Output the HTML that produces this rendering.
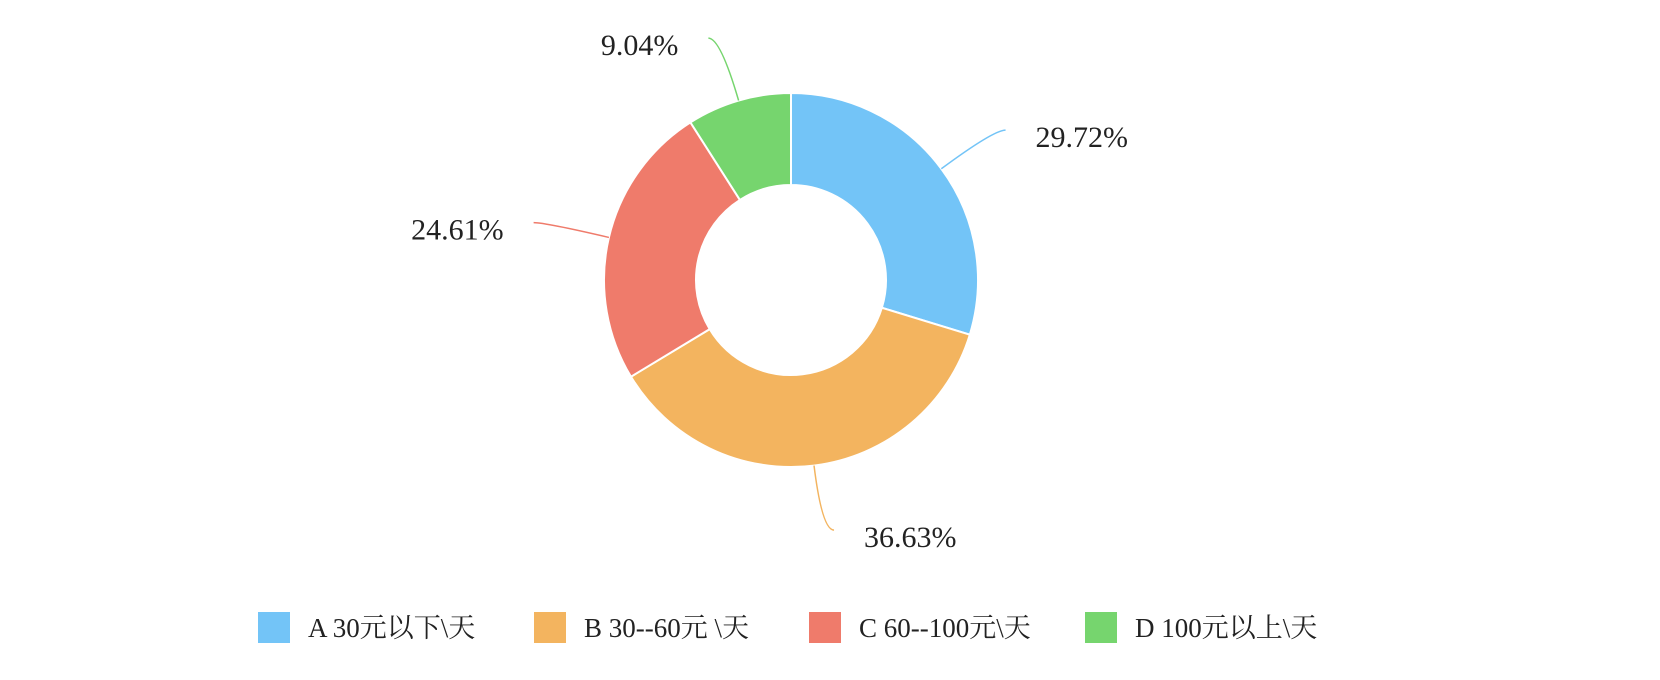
<!DOCTYPE html>
<html><head><meta charset="utf-8">
<style>
html,body{margin:0;padding:0;background:#fff;}
svg{display:block;}
text{font-family:"Liberation Serif","Noto Serif CJK SC","Noto Sans CJK SC",serif;fill:#222;}
</style></head>
<body>
<svg id="chart" width="1660" height="680" viewBox="0 0 1660 680" xmlns="http://www.w3.org/2000/svg">
<g id="slices"></g>
<g id="leaders"></g>
<g id="labels"></g>
<g id="legend"></g>
</svg>
<script>
const categories = ["A 30元以下\\天", "B 30--60元 \\天", "C 60--100元\\天", "D 100元以上\\天"];
const values = [29.72, 36.63, 24.61, 9.04];
const valueLabels = ["29.72%", "36.63%", "24.61%", "9.04%"];
const colors = ["#73c4f7", "#f3b45f", "#ef7b6b", "#76d56e"];

const NS = "http://www.w3.org/2000/svg";
const cx = 791, cy = 280, rOut = 187, rIn = 95;
const total = values.reduce((a,b)=>a+b,0);
function pt(r, frac){ const a = frac*2*Math.PI; return [cx + r*Math.sin(a), cy - r*Math.cos(a)]; }
function mk(tag, attrs){ const e=document.createElementNS(NS,tag); for(const k in attrs) e.setAttribute(k,attrs[k]); return e; }

const gS=document.getElementById('slices'), gL=document.getElementById('leaders'), gT=document.getElementById('labels'), gG=document.getElementById('legend');
let acc=0;
values.forEach((v,i)=>{
  const f0=acc/total, f1=(acc+v)/total; acc+=v;
  const [x0,y0]=pt(rOut,f0),[x1,y1]=pt(rOut,f1),[x2,y2]=pt(rIn,f1),[x3,y3]=pt(rIn,f0);
  const large=(f1-f0)>0.5?1:0;
  const p=mk('path',{d:`M${x0},${y0} A${rOut},${rOut} 0 ${large} 1 ${x1},${y1} L${x2},${y2} A${rIn},${rIn} 0 ${large} 0 ${x3},${y3} Z`,fill:colors[i],stroke:'#fff','stroke-width':2});
  
  
  gS.appendChild(p);
  const fm=(f0+f1)/2;
  const [sx,sy]=pt(rOut,fm), [mx,my]=pt(rOut+65,fm);
  const right = Math.sin(fm*2*Math.PI) >= 0;
  const ex = mx + (right?12:-12);
  const l=mk('path',{d:`M${sx},${sy} Q${mx},${my} ${ex},${my}`,fill:'none',stroke:colors[i],'stroke-width':1.5});
  
  
  gL.appendChild(l);
  const t=mk('text',{x: right? ex+30 : ex-30, y: my+17, 'font-size':30,'text-anchor': right?'start':'end'});
  t.textContent=valueLabels[i];
  
  
  gT.appendChild(t);
});
const legX=[258,534,809,1085];
categories.forEach((c,i)=>{
  const g=mk('g',{});
  
  
  const r=mk('rect',{x:legX[i],y:612,width:32,height:31,fill:colors[i]});
  
  
  const t=mk('text',{x:legX[i]+50,y:637,'font-size':27});
  t.textContent=c;
  
  
  g.appendChild(r); g.appendChild(t); gG.appendChild(g);
});
</script>
</body></html>
